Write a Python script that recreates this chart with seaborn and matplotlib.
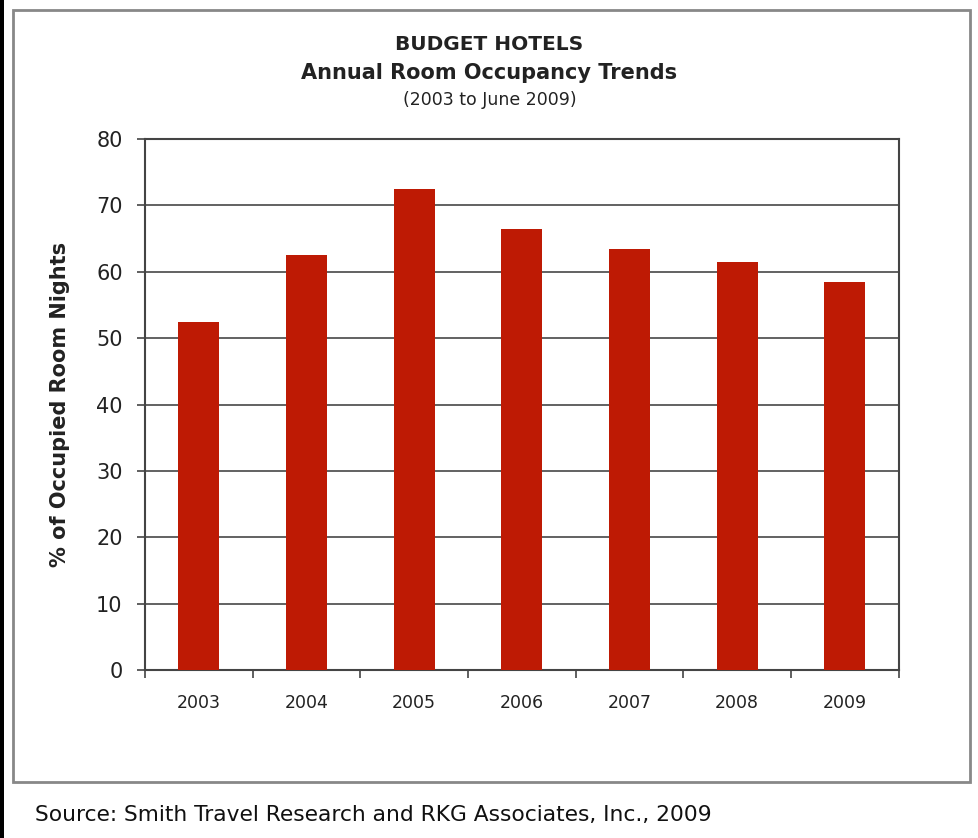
import matplotlib
matplotlib.use('Agg')
import matplotlib.pyplot as plt
from matplotlib.patches import Rectangle
from matplotlib.ticker import FixedLocator
import pandas as pd
import seaborn as sns

# Data
years = ['2003', '2004', '2005', '2006', '2007', '2008', '2009']
occupancy = [52.5, 62.5, 72.5, 66.5, 63.5, 61.5, 58.5]

sns.set_style('white')
plt.rcParams['font.family'] = ['DejaVu Sans']

df = pd.DataFrame({'year': years, 'occupancy': occupancy})

fig = plt.figure(figsize=(9.79, 8.38), dpi=100)
ax = fig.add_axes([0.148, 0.2005, 0.770, 0.6335])

sns.barplot(data=df, x='year', y='occupancy', color='#BE1A04', saturation=1,
            width=0.38, linewidth=0, ax=ax, zorder=3)

ax.set_ylim(0, 80)
ax.set_xlim(-0.5, len(years) - 0.5)
ax.set_yticks(range(0, 81, 10))
ax.yaxis.grid(True, color='#555555', linewidth=1.3, zorder=0)
ax.set_axisbelow(True)

for side in ['left', 'bottom', 'top', 'right']:
    ax.spines[side].set_color('#444444')
    ax.spines[side].set_linewidth(1.5)
    ax.spines[side].set_visible(True)

# x ticks between categories, labels centred under bars
ax.xaxis.set_minor_locator(FixedLocator([i - 0.5 for i in range(len(years) + 1)]))
ax.tick_params(axis='x', which='major', bottom=True, length=0, pad=17,
               labelsize=12.5, labelcolor='#222222')
ax.tick_params(axis='x', which='minor', bottom=True, length=6, width=1.2,
               color='#444444', direction='out')
ax.tick_params(axis='y', left=True, length=6, width=1.2, color='#444444', pad=10,
               labelsize=15, labelcolor='#222222')

ax.set_xlabel('')
ax.set_ylabel('% of Occupied Room Nights', fontsize=15, fontweight='bold',
              color='#222222', labelpad=19)

# Titles
fig.text(0.5, 0.947, 'BUDGET HOTELS', ha='center', va='center',
         fontsize=14.5, fontweight='bold', color='#222222')
fig.text(0.5, 0.913, 'Annual Room Occupancy Trends', ha='center', va='center',
         fontsize=15, fontweight='bold', color='#222222')
fig.text(0.5, 0.881, '(2003 to June 2009)', ha='center', va='center',
         fontsize=12.5, color='#222222')

# Source note
fig.text(0.036, 0.027, 'Source: Smith Travel Research and RKG Associates, Inc., 2009',
         ha='left', va='center', fontsize=15.7, color='#111111')

# Outer frame around the chart
fig.patches.append(Rectangle((0.0133, 0.0668), 0.9775, 0.9212, transform=fig.transFigure,
                             fill=False, edgecolor='#888888', linewidth=2))
# dark edge on the left of the page
fig.patches.append(Rectangle((0, 0), 0.004, 1, transform=fig.transFigure,
                             facecolor='#000000', edgecolor='none'))

fig.savefig('out.png', dpi=100)
